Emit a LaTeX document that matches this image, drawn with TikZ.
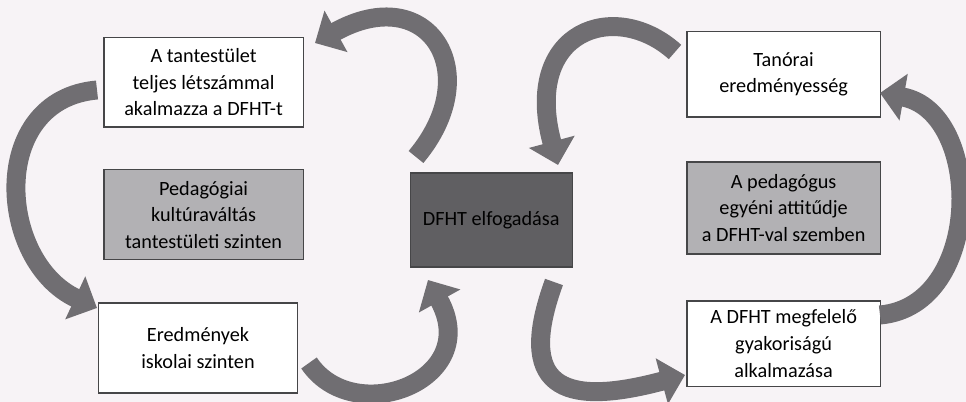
\documentclass[tikz,border=0pt]{standalone}
\usepackage{fontspec}
\setmainfont{Carlito}
\usetikzlibrary{arrows.meta}
\definecolor{paper}{RGB}{247,243,246}
\definecolor{boxline}{RGB}{70,70,72}
\definecolor{boxgray}{RGB}{178,177,180}
\definecolor{boxdark}{RGB}{96,95,98}
\definecolor{arrowgray}{RGB}{112,110,114}
\tikzset{%
    box/.style={rectangle, draw=boxline, line width=0.9pt, fill=white,
    	align=center, inner sep=0pt, font=\fontsize{14.4}{18.9}\selectfont},
    leftbox/.style={box, minimum width=4.98cm},
    rightbox/.style={box, minimum width=4.83cm},
    greyfill/.style={fill=boxgray},
    darkfill/.style={fill=boxdark, text={RGB:red,236;green,236;blue,238}},
    bigarrow/.style={draw=arrowgray, line width=13.5pt,
    	-{Triangle[length=0.6cm, width=1.15cm]}}
}

\begin{document}
\begin{tikzpicture}
  \fill[paper] (0cm, 0cm) rectangle (24.15cm, 10.05cm);
  \useasboundingbox (0cm, 0cm) rectangle (24.15cm, 10.05cm);

  \node (tl) [leftbox, minimum height=2.23cm] at (5.09cm, 7.99cm)
    {A tantestület\\teljes létszámmal\\akalmazza a DFHT-t};
  \node (ml) [leftbox, greyfill, minimum height=2.25cm] at (5.09cm, 4.68cm)
    {Pedagógiai\\kultúraváltás\\tantestületi szinten};
  \node (bl) [leftbox, minimum height=2.25cm] at (4.95cm, 1.35cm)
    {Eredmények\\iskolai szinten};

  \node (ctr) [box, darkfill, minimum width=4.05cm, minimum height=2.35cm]
    at (12.28cm, 4.55cm) {DFHT elfogadása};

  \node (tr) [rightbox, minimum height=2.13cm] at (19.59cm, 8.19cm)
    {Tanórai\\eredményesség};
  \node (mr) [rightbox, greyfill, minimum height=2.3cm] at (19.59cm, 4.85cm)
    {A pedagógus\\egyéni attitűdje\\a DFHT-val szemben};
  \node (br) [rightbox, minimum height=2.13cm] at (19.59cm, 1.46cm)
    {A DFHT megfelelő\\gyakoriságú\\alkalmazása};

  \coordinate (a1s) at (10.40cm, 6.125cm);
  \coordinate (a1e) at (7.875cm, 8.975cm);
  \coordinate (a2s) at (2.425cm, 7.8cm);
  \coordinate (a2e) at (2.425cm, 2.35cm);
  \coordinate (a3s) at (7.725cm, 0.975cm);
  \coordinate (a3e) at (10.7cm, 3.05cm);
  \coordinate (a4s) at (13.85cm, 3.0cm);
  \coordinate (a4e) at (17.125cm, 0.675cm);
  \coordinate (a5s) at (22.0cm, 2.175cm);
  \coordinate (a5e) at (22.0cm, 7.725cm);
  \coordinate (a6s) at (16.875cm, 8.75cm);
  \coordinate (a6e) at (13.95cm, 5.925cm);

  \draw [bigarrow] (a1s) to [out=50, in=29, out distance=2.75cm, in distance=3.25cm] (a1e);
  \draw [bigarrow] (a2s) to [out=185, in=155, distance=2.75cm] (a2e);
  \draw [bigarrow] (a3s) to [out=304, in=299, out distance=2cm, in distance=2.875cm] (a3e);
  \draw [bigarrow] (a4s) to [out=250, in=195, out distance=2.75cm, in distance=3.25cm] (a4e);
  \draw [bigarrow] (a5s) to [out=5, in=350, distance=2.625cm] (a5e);
  \draw [bigarrow] (a6s) to [out=138, in=105, out distance=2cm, in distance=3.5cm] (a6e);

\end{tikzpicture}
\end{document}
